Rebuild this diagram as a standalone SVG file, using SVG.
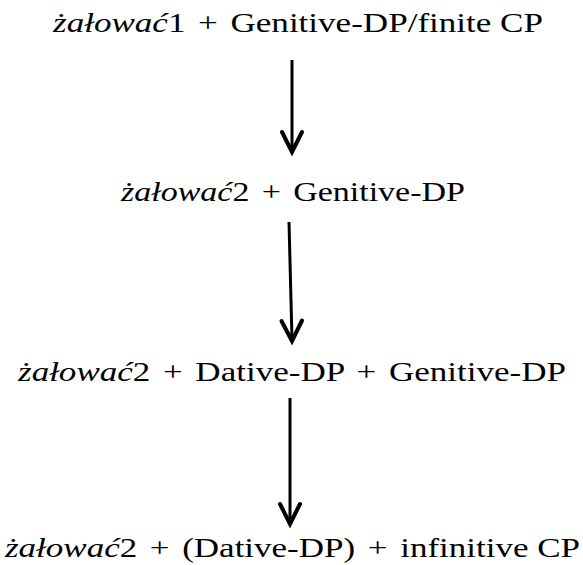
<svg xmlns="http://www.w3.org/2000/svg" width="583" height="565" viewBox="0 0 583 565">
  <style>
    text { font-family: "Liberation Serif", "DejaVu Serif", serif; font-size: 27px; fill: #000; }
    .it { font-style: italic; }
    .conn line { stroke: #000; stroke-width: 3; }
    .conn path { fill: none; stroke: #000; stroke-width: 4; stroke-linecap: round; stroke-linejoin: miter; }
  </style>
  <rect width="583" height="565" fill="#fff"/>

  <g id="node1">
    <text x="53" y="32" textLength="490" lengthAdjust="spacingAndGlyphs"><tspan class="it">żałować</tspan>1 <tspan dx="3">+</tspan> <tspan dx="3">Genitive-DP/finite CP</tspan></text>
  </g>
  <g id="node2">
    <text x="121" y="201" textLength="344" lengthAdjust="spacingAndGlyphs"><tspan class="it">żałować</tspan>2 <tspan dx="3">+</tspan> <tspan dx="3">Genitive-DP</tspan></text>
  </g>
  <g id="node3">
    <text x="18" y="381" textLength="548" lengthAdjust="spacingAndGlyphs"><tspan class="it">żałować</tspan>2 <tspan dx="3">+</tspan> <tspan dx="3">Dative-DP</tspan> <tspan dx="3">+</tspan> <tspan dx="3">Genitive-DP</tspan></text>
  </g>
  <g id="node4">
    <text x="5" y="557" textLength="575" lengthAdjust="spacingAndGlyphs"><tspan class="it">żałować</tspan>2 <tspan dx="3">+</tspan> <tspan dx="3">(Dative-DP)</tspan> <tspan dx="3">+</tspan> <tspan dx="3">infinitive CP</tspan></text>
  </g>

  <g class="conn">
    <line x1="292" y1="60" x2="292" y2="151"/>
    <path d="M282 132 L292 152 L302 132"/>
    <line x1="289" y1="222" x2="292" y2="340"/>
    <path d="M281.5 321 L292 341 L302 320.5"/>
    <line x1="290" y1="398" x2="290" y2="523"/>
    <path d="M280 504 L290 524 L300 504"/>
  </g>
</svg>
